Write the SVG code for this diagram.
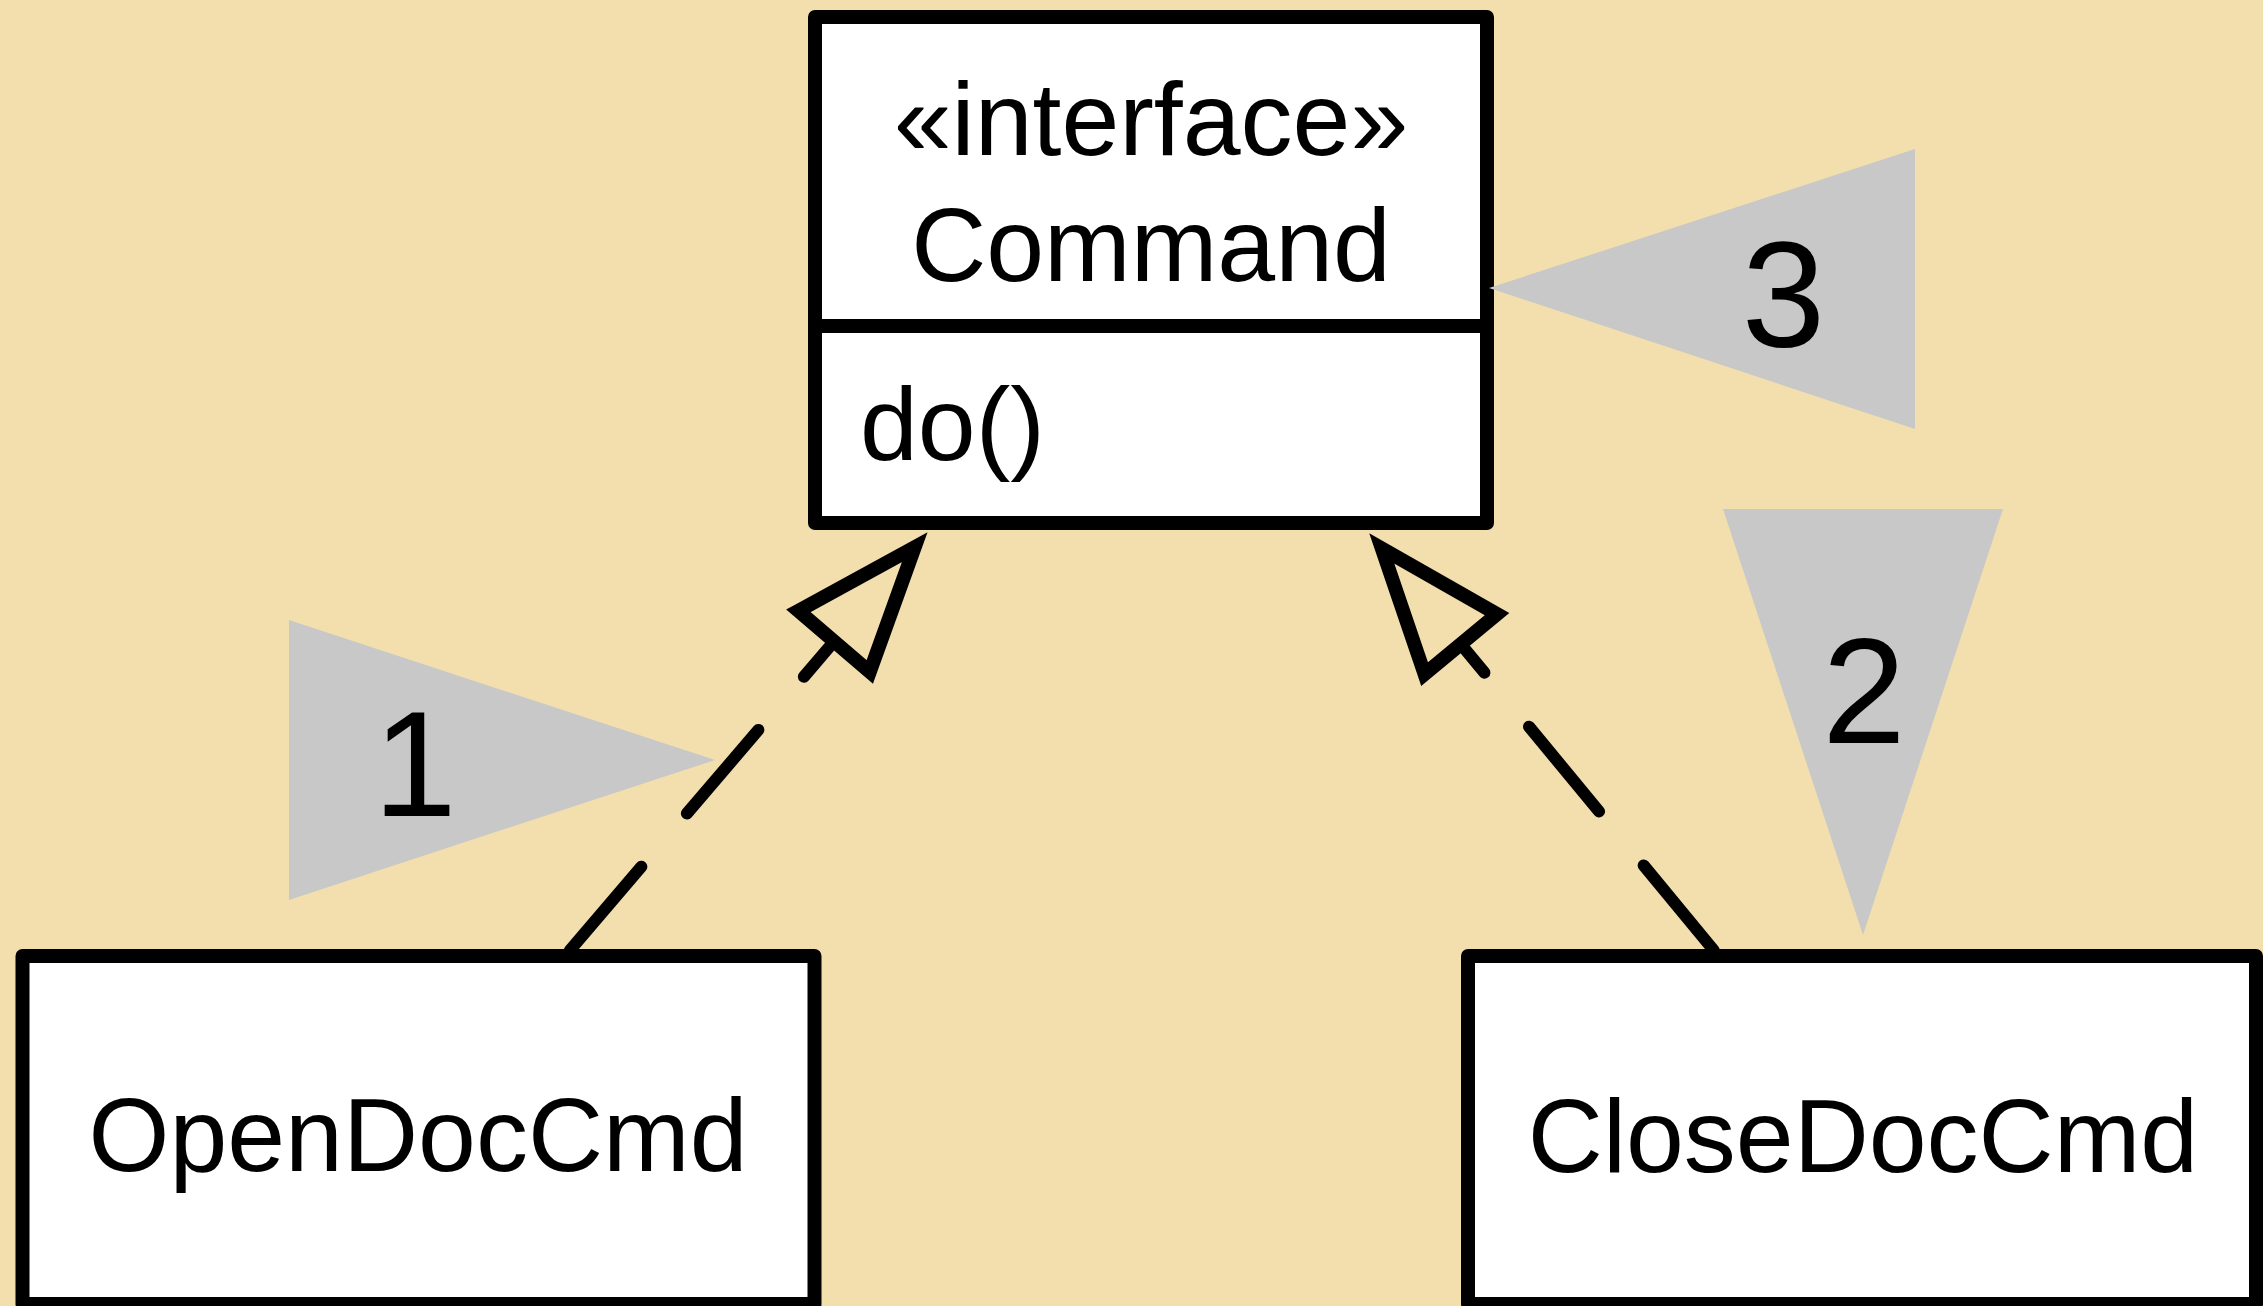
<svg xmlns="http://www.w3.org/2000/svg" width="2263" height="1306" viewBox="0 0 2263 1306">
  <style>
    .box { fill: #ffffff; stroke: #000000; stroke-width: 14; stroke-linejoin: round; }
    .sep { stroke: #000000; stroke-width: 14; }
    .lbl { font-family: "Liberation Sans", Arial, Helvetica, sans-serif; font-size: 104px; fill: #000000; }
    .mid { text-anchor: middle; }
    .dep { fill: none; stroke: #000000; stroke-width: 12; stroke-linecap: round;
           stroke-dasharray: 110 70; stroke-dashoffset: 172.5; marker-end: url(#realize); }
    .callout { fill: #c8c8c8; }
    .num { font-family: "Liberation Sans", Arial, Helvetica, sans-serif; font-size: 150px; fill: #000000; text-anchor: middle; }
  </style>
  <defs>
    <!-- hollow triangle head for the realization (implements) relation -->
    <marker id="realize" markerUnits="userSpaceOnUse" orient="auto" refX="0" refY="0"
            markerWidth="160" markerHeight="120" overflow="visible">
      <path d="M0,-47 L124,0 L0,47 Z" fill="#f2dfad" stroke="#000000" stroke-width="14" stroke-linejoin="miter"/>
    </marker>
  </defs>

  <rect x="0" y="0" width="2263" height="1306" fill="#f2dfad"/>

  <g id="connectors">
    <path class="dep" d="M565,956 L834.1,641.4"/>
    <path class="dep" d="M1718.5,956 L1460.8,644.1"/>
  </g>

  <g id="command">
    <rect class="box" x="815" y="17" width="672" height="506"/>
    <line class="sep" x1="815" y1="326" x2="1487" y2="326"/>
    <text class="lbl mid" x="1151" y="155">«interface»</text>
    <text class="lbl mid" x="1151" y="281">Command</text>
    <text class="lbl" x="860" y="460">do()</text>
  </g>

  <g id="open-doc-cmd">
    <rect class="box" x="22.5" y="956" width="792" height="348"/>
    <text class="lbl mid" x="418" y="1171">OpenDocCmd</text>
  </g>

  <g id="close-doc-cmd">
    <rect class="box" x="1468" y="956" width="788" height="348"/>
    <text class="lbl mid" x="1863" y="1172">CloseDocCmd</text>
  </g>

  <g id="callout-1">
    <polygon class="callout" points="289,620 289,900 715,760"/>
    <text class="num" x="415" y="816">1</text>
  </g>

  <g id="callout-2">
    <polygon class="callout" points="1723,509 2003,509 1863,935"/>
    <text class="num" x="1864" y="743">2</text>
  </g>

  <g id="callout-3">
    <polygon class="callout" points="1489,288 1915,149 1915,429"/>
    <text class="num" x="1783.5" y="347">3</text>
  </g>
</svg>
